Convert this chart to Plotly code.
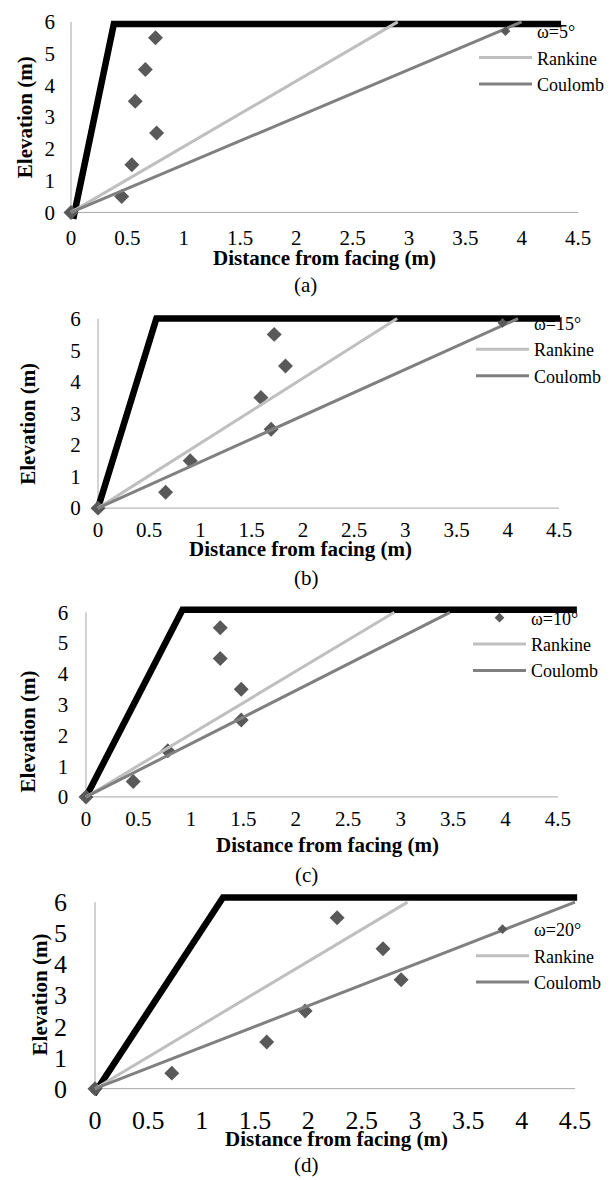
import plotly.graph_objects as go

W, H = 611, 1180

# ---------------- data ----------------
elevation = [0, 0.5, 1.5, 2.5, 3.5, 4.5, 5.5]
dist_a = [0, 0.45, 0.54, 0.76, 0.57, 0.66, 0.75]
dist_b = [0, 0.66, 0.90, 1.69, 1.59, 1.83, 1.72]
dist_c = [0, 0.45, 0.78, 1.48, 1.48, 1.28, 1.28]
dist_d = [0, 0.72, 1.61, 1.97, 2.87, 2.70, 2.27]
omega_labels = ["ω=5°", "ω=15°", "ω=10°", "ω=20°"]

wall_x_a = [0.02, 0.38, 4.35]
wall_y_a = [-0.20, 5.93, 5.93]
wall_x_b = [-0.01, 0.57, 4.51]
wall_y_b = [-0.10, 6.00, 6.00]
wall_x_c = [0.00, 0.92, 4.68]
wall_y_c = [0.00, 6.08, 6.08]
wall_x_d = [-0.01, 1.20, 4.52]
wall_y_d = [-0.18, 6.15, 6.15]

line_y = [0, 6]
rankine_x_a = [0, 2.90]
rankine_x_b = [0, 2.92]
rankine_x_c = [0, 2.94]
rankine_x_d = [0, 2.93]
coulomb_x_a = [0, 4.00]
coulomb_x_b = [0, 4.10]
coulomb_x_c = [0, 3.47]
coulomb_x_d = [0, 4.50]

x_ticks = [0, 0.5, 1, 1.5, 2, 2.5, 3, 3.5, 4, 4.5]
x_ticktext = ["0", "0.5", "1", "1.5", "2", "2.5", "3", "3.5", "4", "4.5"]
y_ticks = [0, 1, 2, 3, 4, 5, 6]
y_ticktext = ["0", "1", "2", "3", "4", "5", "6"]
captions = ["(a)", "(b)", "(c)", "(d)"]

# ---------------- layout geometry ----------------
FONT = "Liberation Serif"
XR = [-0.15, 4.75]
YR = [-0.35, 6.3]
# pixel positions of x=0, x=4.5, y=0, y=6 for each panel
geom = [
    dict(px0=71, px45=578, py0=209, py6=17, tick=21, xso=-1, yso=-2,
         xt=(324, 255), yt=(25, 113), cap=(305, 282), leg=(474, 8)),
    dict(px0=98, px45=559, py0=507, py6=316, tick=21, xso=-4, yso=1,
         xt=(300, 548), yt=(28, 422), cap=(306, 577), leg=(471, 302)),
    dict(px0=86, px45=558, py0=798, py6=612, tick=21, xso=-4, yso=1,
         xt=(327, 846), yt=(28, 732), cap=(306, 877), leg=(468, 599)),
    dict(px0=95, px45=575, py0=1092, py6=904, tick=26, xso=2, yso=11,
         xt=(336, 1143), yt=(40, 997), cap=(306, 1169), leg=(471, 913)),
]

dists = [dist_a, dist_b, dist_c, dist_d]
walls = [(wall_x_a, wall_y_a), (wall_x_b, wall_y_b), (wall_x_c, wall_y_c), (wall_x_d, wall_y_d)]
rankines = [rankine_x_a, rankine_x_b, rankine_x_c, rankine_x_d]
coulombs = [coulomb_x_a, coulomb_x_b, coulomb_x_c, coulomb_x_d]

fig = go.Figure()
annotations = []
shapes = []
layout_extra = {}

for i in range(4):
    g = geom[i]
    n = "" if i == 0 else str(i + 1)
    xa, ya = "x" + n, "y" + n
    leg = "legend" + n
    grp = "omega" + str(i)
    ux = (g["px45"] - g["px0"]) / 4.5
    uy = (g["py0"] - g["py6"]) / 6
    left = g["px0"] + XR[0] * ux
    right = g["px0"] + XR[1] * ux
    top = g["py0"] - YR[1] * uy
    bottom = g["py0"] - YR[0] * uy

    wx, wy = walls[i]
    fig.add_trace(go.Scatter(x=wx, y=wy, mode="lines", line=dict(color="#000000", width=6.5),
                             showlegend=False, xaxis=xa, yaxis=ya, hoverinfo="skip"))
    # measured points (legend entry drawn with a smaller symbol, as in the original)
    fig.add_trace(go.Scatter(x=dists[i], y=elevation, mode="markers", name=omega_labels[i],
                             marker=dict(symbol="diamond", size=11.5, color="#595959"),
                             cliponaxis=False, xaxis=xa, yaxis=ya, legend=leg,
                             legendgroup=grp, showlegend=False))
    fig.add_trace(go.Scatter(x=[None], y=[None], mode="markers", name=omega_labels[i],
                             marker=dict(symbol="diamond", size=7.5, color="#595959"),
                             xaxis=xa, yaxis=ya, legend=leg, legendgroup=grp, hoverinfo="skip"))
    fig.add_trace(go.Scatter(x=rankines[i], y=line_y, mode="lines", name="Rankine",
                             line=dict(color="#BFBFBF", width=3), xaxis=xa, yaxis=ya, legend=leg))
    fig.add_trace(go.Scatter(x=coulombs[i], y=line_y, mode="lines", name="Coulomb",
                             line=dict(color="#808080", width=3), xaxis=xa, yaxis=ya, legend=leg))

    axis_common = dict(showgrid=False, zeroline=False, showline=False, ticks="",
                       tickfont=dict(family=FONT, size=g["tick"], color="#000000"))
    layout_extra["xaxis" + n] = dict(axis_common, domain=[left / W, right / W], range=XR,
                                     tickmode="array", tickvals=x_ticks, ticktext=x_ticktext,
                                     anchor=ya, ticklabelstandoff=g["xso"])
    layout_extra["yaxis" + n] = dict(axis_common, domain=[1 - bottom / H, 1 - top / H], range=YR,
                                     tickmode="array", tickvals=y_ticks, ticktext=y_ticktext,
                                     anchor=xa, ticklabelstandoff=g["yso"])
    layout_extra[leg] = dict(x=g["leg"][0] / W, y=1 - g["leg"][1] / H, xanchor="left", yanchor="top",
                             bgcolor="rgba(0,0,0,0)", font=dict(family=FONT, size=18, color="#000000"),
                             tracegroupgap=0, itemwidth=53, traceorder="normal")

    # axis lines (x from 0 to 4.5 at y=0, y from 0 to 6 at x=0)
    shapes.append(dict(type="line", xref=xa, yref=ya, x0=x_ticks[0], x1=x_ticks[-1], y0=0, y1=0,
                       line=dict(color="#A6A6A6", width=1), layer="below"))
    shapes.append(dict(type="line", xref=xa, yref=ya, x0=0, x1=0, y0=y_ticks[0], y1=y_ticks[-1],
                       line=dict(color="#A6A6A6", width=1), layer="below"))

    annotations.append(dict(text="<b>Distance from facing (m)</b>", x=g["xt"][0] / W, y=1 - g["xt"][1] / H,
                            xref="paper", yref="paper", xanchor="center", yanchor="middle", showarrow=False,
                            font=dict(family=FONT, size=21, color="#000000")))
    annotations.append(dict(text="<b>Elevation (m)</b>", x=g["yt"][0] / W, y=1 - g["yt"][1] / H,
                            xref="paper", yref="paper", xanchor="center", yanchor="middle", showarrow=False,
                            textangle=-90, font=dict(family=FONT, size=21, color="#000000")))
    annotations.append(dict(text=captions[i], x=g["cap"][0] / W, y=1 - g["cap"][1] / H,
                            xref="paper", yref="paper", xanchor="center", yanchor="middle", showarrow=False,
                            font=dict(family=FONT, size=21, color="#000000")))

fig.update_layout(
    width=W, height=H,
    margin=dict(l=0, r=0, t=0, b=0),
    paper_bgcolor="#FFFFFF", plot_bgcolor="rgba(0,0,0,0)",
    font=dict(family=FONT, color="#000000"),
    annotations=annotations, shapes=shapes,
    **layout_extra,
)

fig.write_html("out.html", config={"displayModeBar": False},
               post_script="document.body.style.margin='0px';document.body.style.overflow='hidden';")
